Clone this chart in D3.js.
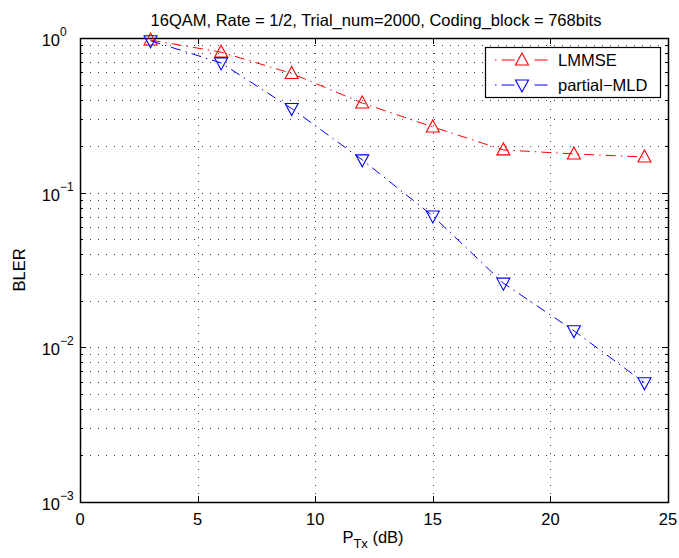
<!DOCTYPE html>
<html><head><meta charset="utf-8">
<script src="https://cdn.jsdelivr.net/npm/d3@7"></script>
<style>body{margin:0;background:#fff}svg{display:block}text{font-family:"Liberation Sans",Arial,sans-serif}</style>
</head><body>
<script>
const xVals = [3, 6, 9, 12, 15, 18, 21, 24];
const lmmse = [0.97, 0.81, 0.59, 0.38, 0.266, 0.189, 0.178, 0.17];
const pmld = [0.96, 0.69, 0.35, 0.163, 0.0707, 0.026, 0.0128, 0.0059];
const xTicks = [0, 5, 10, 15, 20, 25];
const yExps = [0, -1, -2, -3];
const seriesNames = ["LMMSE", "partial\u2212MLD"];
const titleText = "16QAM, Rate = 1/2, Trial_num=2000, Coding_block = 768bits";

const W = 679, H = 558;
const m = {l: 80, r: 11, t: 38, b: 56};
const FS = 16.5;
const svg = d3.select("body").append("svg").attr("width", W).attr("height", H);
const x = d3.scaleLinear().domain([0, 25]).range([m.l, W - m.r]);
const y = d3.scaleLog().domain([1e-3, 1]).range([H - m.b, m.t]);
const x0 = m.l, x1 = W - m.r, y0 = H - m.b, y1 = m.t;

const g = svg.append("g");
// grid
const gridStyle = s => s.attr("stroke", "#444").attr("stroke-width", 1).attr("stroke-dasharray", "1,7").attr("shape-rendering", "crispEdges");
xTicks.slice(1, -1).forEach(t => {
  gridStyle(g.append("line").attr("x1", Math.round(x(t)) + 0.5).attr("x2", Math.round(x(t)) + 0.5).attr("y1", y0).attr("y2", y1));
});
const yMinor = [];
for (let e = -3; e < 0; e++) for (let k = 1; k <= 9; k++) { if (!(k === 1 && e === -3)) yMinor.push(k * Math.pow(10, e)); }
yMinor.forEach(v => {
  gridStyle(g.append("line").attr("y1", Math.round(y(v)) + 0.5).attr("y2", Math.round(y(v)) + 0.5).attr("x1", x0 + 2).attr("x2", x1));
});
// ticks
xTicks.forEach(t => {
  const px = Math.round(x(t)) + 0.5;
  g.append("line").attr("x1", px).attr("x2", px).attr("y1", y0).attr("y2", y0 - 6).attr("stroke", "#000");
  g.append("line").attr("x1", px).attr("x2", px).attr("y1", y1).attr("y2", y1 + 6).attr("stroke", "#000");
  g.append("text").attr("x", x(t)).attr("y", y0 + 23).attr("text-anchor", "middle").attr("font-size", FS).text(t);
});
yMinor.concat([1e-3, 1]).forEach(v => {
  const py = Math.round(y(v)) + 0.5;
  const major = Math.abs(Math.log10(v) - Math.round(Math.log10(v))) < 1e-9;
  const len = major ? 6 : 3;
  g.append("line").attr("x1", x0).attr("x2", x0 + len).attr("y1", py).attr("y2", py).attr("stroke", "#000");
  g.append("line").attr("x1", x1).attr("x2", x1 - len).attr("y1", py).attr("y2", py).attr("stroke", "#000");
});
yExps.forEach(e => {
  const py = y(Math.pow(10, e));
  g.append("text").attr("x", 60).attr("y", py + 8).attr("text-anchor", "end").attr("font-size", FS).text("10");
  g.append("text").attr("x", 60).attr("y", py - 2).attr("font-size", 12).text(e === 0 ? "0" : "\u2212" + Math.abs(e));
});
// box
g.append("rect").attr("x", x0 + 0.5).attr("y", y1 + 0.5).attr("width", x1 - x0).attr("height", y0 - y1).attr("fill", "none").attr("stroke", "#000").attr("stroke-width", 1.5);

// series
const dash = "10,5,1.5,5";
const line = d3.line().x(d => x(d[0])).y(d => y(d[1]));
const up = (cx, cy) => `M${cx},${cy - 7}L${cx + 6.5},${cy + 5}L${cx - 6.5},${cy + 5}Z`;
const down = (cx, cy) => `M${cx},${cy + 7}L${cx + 6.5},${cy - 5}L${cx - 6.5},${cy - 5}Z`;
const series = [
  {vals: lmmse, color: "#ff0000", marker: up},
  {vals: pmld, color: "#0000ff", marker: down}
];
series.forEach(s => {
  const pts = xVals.map((v, i) => [v, s.vals[i]]);
  g.append("path").attr("d", line(pts)).attr("fill", "none").attr("stroke", s.color).attr("stroke-width", 1).attr("stroke-dasharray", dash);
  pts.forEach(p => {
    g.append("path").attr("d", s.marker(x(p[0]), y(p[1]))).attr("fill", "none").attr("stroke", s.color).attr("stroke-width", 1.1);
  });
});

// legend
const lg = g.append("g");
const lx = 485, ly = 47, lw = 175, lh = 50;
lg.append("rect").attr("x", lx + 0.5).attr("y", ly + 0.5).attr("width", lw).attr("height", lh).attr("fill", "#fff").attr("stroke", "#000").attr("stroke-width", 1.2);
series.forEach((s, i) => {
  const cy = 60 + i * 25;
  lg.append("line").attr("x1", 495).attr("x2", 548).attr("y1", cy).attr("y2", cy).attr("stroke", s.color).attr("stroke-dasharray", "1.5,5,13,20,13,5");
  lg.append("path").attr("d", s.marker(522, cy)).attr("fill", "#fff").attr("stroke", s.color).attr("stroke-width", 1.1);
  lg.append("text").attr("x", 558).attr("y", cy + 6).attr("font-size", FS).text(seriesNames[i]);
});

// title and labels
svg.append("text").attr("x", (x0 + x1) / 2 + 2).attr("y", 26).attr("text-anchor", "middle").attr("font-size", FS).text(titleText);
const xl = svg.append("text").attr("x", 373).attr("y", 543).attr("text-anchor", "middle").attr("font-size", FS);
xl.append("tspan").text("P");
xl.append("tspan").attr("dy", 5).attr("font-size", 13).text("Tx");
xl.append("tspan").attr("dy", -5).text(" (dB)");
svg.append("text").attr("transform", `translate(25,${(y0 + y1) / 2}) rotate(-90)`).attr("text-anchor", "middle").attr("font-size", FS).text("BLER");
</script>
</body></html>
